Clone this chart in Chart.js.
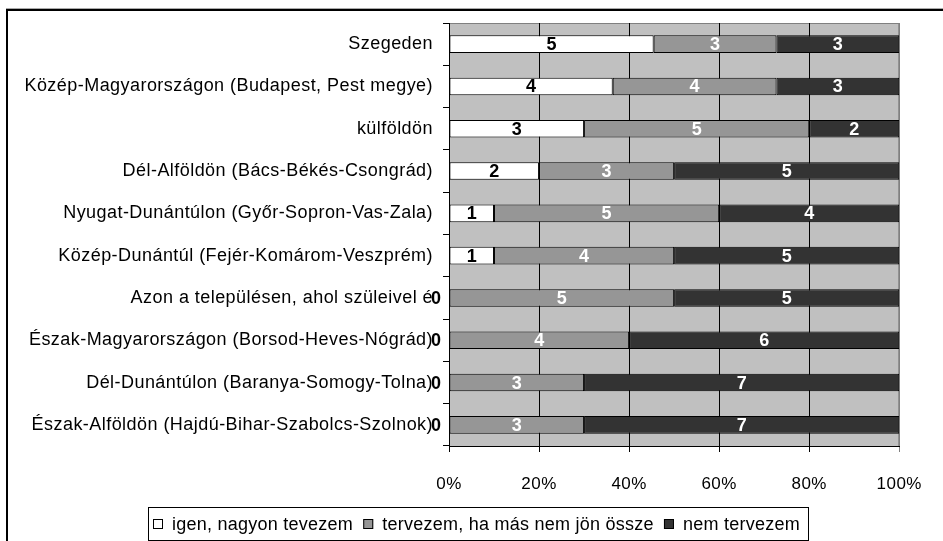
<!DOCTYPE html>
<html>
<head>
<meta charset="utf-8">
<script src="https://cdn.jsdelivr.net/npm/chart.js@4/dist/chart.umd.min.js"></script>
<style>
  html, body { margin: 0; padding: 0; background: #fff; }
  #wrap { width: 943px; height: 541px; position: relative; }
</style>
</head>
<body>
<div id="wrap"><canvas id="c" width="943" height="541"></canvas></div>
<script>
const categories = [
  "Szegeden",
  "Közép-Magyarországon (Budapest, Pest megye)",
  "külföldön",
  "Dél-Alföldön (Bács-Békés-Csongrád)",
  "Nyugat-Dunántúlon (Győr-Sopron-Vas-Zala)",
  "Közép-Dunántúl (Fejér-Komárom-Veszprém)",
  "Azon a településen, ahol szüleivel é",
  "Észak-Magyarországon (Borsod-Heves-Nógrád)",
  "Dél-Dunántúlon (Baranya-Somogy-Tolna)",
  "Észak-Alföldön (Hajdú-Bihar-Szabolcs-Szolnok)"
];
const seriesNames = ["igen, nagyon tevezem", "tervezem, ha más nem jön össze", "nem tervezem"];
const igen     = [5, 4, 3, 2, 1, 1, 0, 0, 0, 0];
const tervezem = [3, 4, 5, 3, 5, 4, 5, 4, 3, 3];
const nem      = [3, 3, 2, 5, 4, 5, 5, 6, 7, 7];
const xTicks = [0, 20, 40, 60, 80, 100];

const counts = [igen, tervezem, nem];
const colors = ["#FFFFFF", "#969696", "#333333"];
const labelColors = ["#000000", "#FFFFFF", "#FFFFFF"];
const totals = categories.map((_, j) => counts.reduce((s, arr) => s + arr[j], 0));
const FONT = "'Liberation Sans', Arial, sans-serif";
const SPACING = '0.45px';

const frame = {
  id: 'frame',
  beforeDraw(chart) {
    const c = chart.ctx, a = chart.chartArea;
    c.save();
    c.fillStyle = '#fff';
    c.fillRect(0, 0, chart.width, chart.height);
    c.fillStyle = '#aaaaaa';
    c.fillRect(6, 8, 937, 1);
    c.fillStyle = '#000';
    c.fillRect(6, 9, 937, 2);
    c.fillRect(6, 9, 2, 532);
    c.fillStyle = '#C0C0C0';
    c.fillRect(a.left, a.top, a.right - a.left, a.bottom - a.top);
    c.strokeStyle = '#808080';
    c.lineWidth = 1;
    c.strokeRect(a.left + 0.5, a.top + 0.5, a.right - a.left - 1, a.bottom - a.top);
    c.restore();
    // slightly wider text advance, like the reference's hinted glyphs
    c.letterSpacing = SPACING;
  },
  beforeDatasetsDraw(chart) {
    chart.ctx.letterSpacing = '0px';
  }
};

const valueLabels = {
  id: 'valueLabels',
  afterDatasetsDraw(chart) {
    const c = chart.ctx;
    c.save();
    c.font = "bold 18px " + FONT;
    c.textAlign = 'center';
    c.textBaseline = 'middle';
    chart.data.datasets.forEach((ds, i) => {
      const meta = chart.getDatasetMeta(i);
      meta.data.forEach((el, j) => {
        const v = counts[i][j];
        let x = (el.x + el.base) / 2;
        if (v === 0) x = el.base - 13;
        c.fillStyle = labelColors[i];
        c.fillText(String(v), x, el.y + 1);
      });
    });
    c.restore();
  }
};

const boxLegend = {
  id: 'boxLegend',
  afterDraw(chart) {
    const c = chart.ctx;
    c.save();
    c.letterSpacing = '0.25px';
    c.font = "18px " + FONT;
    c.textBaseline = 'middle';
    const left = 148, right = 808, top = 507, h = 33;
    const marker = 10, padL = 5, padR = 8, gapM = 9;
    const widths = seriesNames.map(n => c.measureText(n).width);
    const used = padL + padR + widths.reduce((s, w) => s + w, 0) + seriesNames.length * (marker + gapM);
    const gapI = (right - left - used) / (seriesNames.length - 1);
    c.strokeStyle = '#000';
    c.lineWidth = 1;
    c.strokeRect(left + 0.5, top + 0.5, right - left, h);
    let x = left + padL;
    const y = 524;
    chart.data.datasets.forEach((ds, i) => {
      c.fillStyle = colors[i];
      c.fillRect(x, y - 5, marker, marker);
      c.strokeRect(x + 0.5, y - 5 + 0.5, marker - 1, marker - 1);
      x += marker + gapM;
      c.fillStyle = '#000';
      c.fillText(seriesNames[i], x, y + 1);
      x += widths[i] + gapI;
    });
    c.restore();
  }
};

const datasets = counts.map((arr, i) => ({
  label: seriesNames[i],
  data: arr.map((v, j) => v / totals[j] * 100),
  backgroundColor: colors[i],
  borderColor: '#000',
  borderWidth: 1,
  borderSkipped: false,
  barPercentage: 0.415,
  categoryPercentage: 1.0
}));

new Chart(document.getElementById('c'), {
  type: 'bar',
  data: { labels: categories, datasets },
  options: {
    indexAxis: 'y',
    responsive: false,
    animation: false,
    layout: { padding: { top: 23, right: 40, left: 0, bottom: 0 } },
    plugins: { legend: { display: false }, tooltip: { enabled: false } },
    scales: {
      x: {
        stacked: true,
        min: 0, max: 100,
        afterBuildTicks(scale) { scale.ticks = xTicks.map(v => ({ value: v })); },
        afterFit(scale) { scale.height = 95; },
        ticks: {
          color: '#000',
          font: { family: FONT, size: 17 },
          padding: 22,
          callback: v => v + '%'
        },
        grid: {
          color: ctx => (ctx.tick && ctx.tick.value === 100) ? '#808080' : '#000',
          lineWidth: 1,
          tickLength: 6
        },
        border: { display: true, color: '#000', width: 1 }
      },
      y: {
        stacked: true,
        afterFit(scale) { scale.width = 449; },
        ticks: {
          color: '#000',
          font: { family: FONT, size: 18 },
          padding: 10
        },
        grid: {
          drawOnChartArea: false,
          offset: true,
          color: '#000',
          tickLength: 6
        },
        border: { display: true, color: '#000', width: 1 }
      }
    }
  },
  plugins: [frame, valueLabels, boxLegend]
});
</script>
</body>
</html>
